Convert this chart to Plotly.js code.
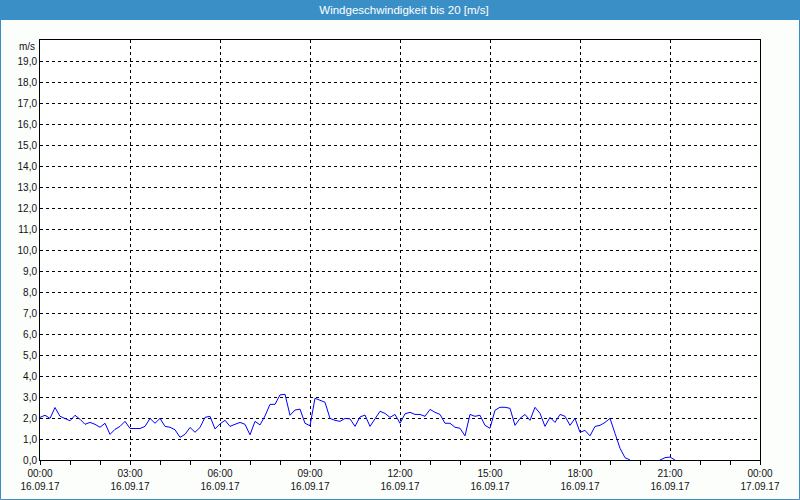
<!DOCTYPE html>
<html>
<head>
<meta charset="utf-8">
<script src="https://cdn.plot.ly/plotly-3.0.1.min.js"></script>
<style>
html,body{margin:0;padding:0;background:#fcfefc;}
#chart{width:800px;height:500px;}
</style>
</head>
<body>
<div id="chart"></div>
<script>
// 10-minute samples starting 16.09.17 00:00 (hours since start); null = no reading
const sampleStepHours = 1 / 6;
const windSpeed = [
  2.03, 2.13, 1.98, 2.50, 2.08, 1.98, 1.87, 2.13, 1.94, 1.70, 1.79, 1.70,
  1.56, 1.75, 1.22, 1.46, 1.60, 1.84, 1.50, 1.50, 1.50, 1.60, 1.98, 1.75,
  1.98, 1.60, 1.56, 1.44, 1.08, 1.22, 1.55, 1.32, 1.55, 2.03, 2.08, 1.48,
  1.72, 1.89, 1.60, 1.70, 1.79, 1.70, 1.20, 1.84, 1.67, 2.10, 2.65, 2.65,
  3.10, 3.13, 2.13, 2.38, 2.42, 1.75, 1.63, 2.94, 2.84, 2.75, 1.98, 1.89,
  1.84, 1.98, 1.96, 1.60, 2.05, 2.14, 1.60, 1.98, 2.32, 2.22, 2.03, 2.17,
  1.75, 2.20, 2.27, 2.17, 2.17, 2.08, 2.41, 2.27, 2.17, 1.75, 1.75, 1.56,
  1.51, 1.15, 2.17, 2.08, 2.13, 1.65, 1.51, 2.37, 2.51, 2.51, 2.46, 1.65,
  1.98, 2.17, 1.89, 2.51, 2.22, 1.60, 2.03, 1.79, 2.17, 2.08, 1.65, 1.98,
  1.32, 1.41, 1.15, 1.60, 1.65, 1.79, 1.98, 1.27, 0.56, 0.11, 0.00, null,
  null, null, null, null, 0.00, 0.11, 0.14, 0.00
];
const sampleHours = windSpeed.map((_, i) => i * sampleStepHours);

const xTickHours = [0, 3, 6, 9, 12, 15, 18, 21, 24];
const xTickTimes = ['00:00', '03:00', '06:00', '09:00', '12:00', '15:00', '18:00', '21:00', '00:00'];
const xTickDates = ['16.09.17', '16.09.17', '16.09.17', '16.09.17', '16.09.17', '16.09.17', '16.09.17', '16.09.17', '17.09.17'];
const yTickValues = [0,1,2,3,4,5,6,7,8,9,10,11,12,13,14,15,16,17,18,19];
const yTickLabels = ['0,0','1,0','2,0','3,0','4,0','5,0','6,0','7,0','8,0','9,0','10,0','11,0','12,0','13,0','14,0','15,0','16,0','17,0','18,0','19,0'];
const yUnit = 'm/s';
const chartTitle = 'Windgeschwindigkeit bis 20 [m/s]';

const FONT = 'Liberation Sans, Arial, sans-serif';
const BLUE = '#3b8fc7';

const W = 800, H = 500, L = 40, R = 40, T = 40, B = 40;
const pw = W - L - R, ph = H - T - B;
const px = v => (v - L) / pw;          // pixel x -> paper
const py = v => (H - B - v) / ph;      // pixel y -> paper

const trace = {
  x: sampleHours,
  y: windSpeed,
  type: 'scatter',
  mode: 'lines',
  connectgaps: false,
  line: {color: '#0000ff', width: 1},
  hoverinfo: 'skip'
};

const layout = {
  width: W, height: H,
  margin: {l: L, r: R, t: T, b: B, pad: 0},
  paper_bgcolor: '#fcfefc',
  plot_bgcolor: '#ffffff',
  showlegend: false,
  font: {family: FONT, size: 10, color: '#111111'},
  title: {
    text: chartTitle,
    font: {family: FONT, size: 11.5, color: '#ffffff'},
    xref: 'container', x: 0.505, xanchor: 'center',
    yref: 'container', y: 1 - 10 / H, yanchor: 'middle'
  },
  xaxis: {
    range: [0, 24],
    tickmode: 'array',
    tickvals: xTickHours,
    ticktext: xTickHours.map((h, i) => xTickTimes[i] + '<br>' + xTickDates[i]),
    ticks: 'outside', ticklen: 4, tickwidth: 1, tickcolor: '#000',
    minor: {tickmode: 'linear', tick0: 0, dtick: 1, ticks: 'outside', ticklen: 4, tickcolor: '#000', showgrid: false},
    showgrid: true, gridcolor: '#000', gridwidth: 1, griddash: '3px,3px',
    showline: true, linecolor: '#000', linewidth: 1, mirror: true,
    zeroline: false, fixedrange: true,
    tickfont: {family: FONT, size: 10, color: '#111111'}
  },
  yaxis: {
    range: [0, 20],
    tickmode: 'array',
    tickvals: yTickValues,
    ticktext: yTickLabels,
    ticks: '',
    showgrid: true, gridcolor: '#000', gridwidth: 1, griddash: '3px,3px',
    showline: true, linecolor: '#000', linewidth: 1, mirror: true,
    zeroline: false, fixedrange: true,
    tickfont: {family: FONT, size: 10, color: '#111111'}
  },
  shapes: [
    {type: 'rect', xref: 'paper', yref: 'paper', layer: 'below',
     x0: px(0), x1: px(W), y0: py(20), y1: py(0),
     fillcolor: BLUE, line: {width: 0}},
    {type: 'rect', xref: 'paper', yref: 'paper', layer: 'above',
     x0: px(0.5), x1: px(W - 0.5), y0: py(H - 0.5), y1: py(0.5),
     fillcolor: 'rgba(0,0,0,0)', line: {color: BLUE, width: 1}}
  ],
  annotations: [
    {text: yUnit, xref: 'paper', yref: 'y', x: 0, y: 20, xanchor: 'right', yanchor: 'middle',
     xshift: -3, yshift: -6, showarrow: false, font: {family: FONT, size: 10, color: '#111111'}}
  ]
};

Plotly.newPlot('chart', [trace], layout, {displayModeBar: false, staticPlot: true});
</script>
</body>
</html>
